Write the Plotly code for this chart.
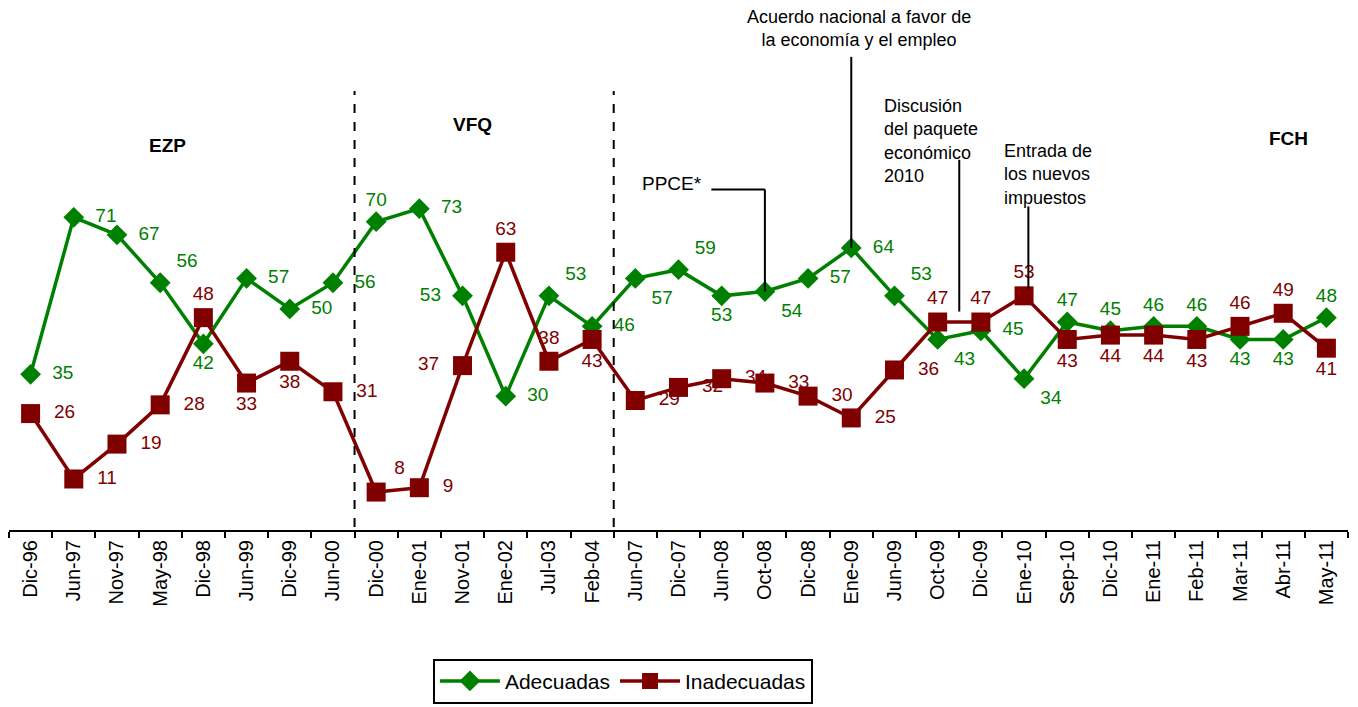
import plotly.graph_objects as go

categories = ["Dic-96", "Jun-97", "Nov-97", "May-98", "Dic-98", "Jun-99", "Dic-99", "Jun-00",
              "Dic-00", "Ene-01", "Nov-01", "Ene-02", "Jul-03", "Feb-04", "Jun-07", "Dic-07",
              "Jun-08", "Oct-08", "Dic-08", "Ene-09", "Jun-09", "Oct-09", "Dic-09", "Ene-10",
              "Sep-10", "Dic-10", "Ene-11", "Feb-11", "Mar-11", "Abr-11", "May-11"]
adecuadas = [35, 71, 67, 56, 42, 57, 50, 56, 70, 73, 53, 30, 53, 46, 57, 59, 53, 54, 57, 64,
             53, 43, 45, 34, 47, 45, 46, 46, 43, 43, 48]
inadecuadas = [26, 11, 19, 28, 48, 33, 38, 31, 8, 9, 37, 63, 38, 43, 29, 32, 34, 33, 30, 25,
               36, 47, 47, 53, 43, 44, 44, 43, 46, 49, 41]

periods = ["EZP", "VFQ", "FCH"]

GREEN = "#008000"
RED = "#800000"
FONT = "Liberation Sans, Arial, sans-serif"

MR, ML, TC, BC, TR, BR = "middle right", "middle left", "top center", "bottom center", "top right", "bottom right"
pos_ade = [MR, MR, MR, TR, BC, MR, MR, MR, TC, MR, ML, MR, TR, MR, BR, TR, BC, BR, MR, MR,
           TR, BR, MR, BR, TC, TC, TC, TC, BC, BC, TC]
pos_inad = [MR, MR, MR, MR, TC, BC, BC, MR, TR, MR, ML, TC, TC, BC, MR, MR, MR, MR, MR, MR,
            MR, TC, TC, TC, BC, BC, BC, BC, TC, TC, BC]


def labels(values, positions):
    out = []
    for v, p in zip(values, positions):
        s = str(v)
        if p == MR:
            s = "  " + s
        elif p == ML:
            s = s + "  "
        elif p in (TR, BR):
            s = " " + s
        out.append(s)
    return out


fig = go.Figure()
fig.add_trace(go.Scatter(
    x=categories, y=adecuadas, name="Adecuadas", mode="lines+markers+text",
    line=dict(color=GREEN, width=3.5),
    marker=dict(symbol="diamond", size=16, color=GREEN),
    text=labels(adecuadas, pos_ade), textposition=pos_ade,
    textfont=dict(color=GREEN, size=19, family=FONT), cliponaxis=False,
))
fig.add_trace(go.Scatter(
    x=categories, y=inadecuadas, name="Inadecuadas", mode="lines+markers+text",
    line=dict(color=RED, width=3.5),
    marker=dict(symbol="square", size=19, color=RED),
    text=labels(inadecuadas, pos_inad), textposition=pos_inad,
    textfont=dict(color=RED, size=19, family=FONT), cliponaxis=False,
))

shapes = []
# period separators
for xb in (7.5, 13.5):
    shapes.append(dict(type="line", xref="x", yref="y", x0=xb, x1=xb, y0=0, y1=100,
                       line=dict(color="black", width=2, dash="dash")))

i_oct08 = categories.index("Oct-08")
i_ene09 = categories.index("Ene-09")
line_style = dict(color="black", width=2)
# PPCE leader
shapes.append(dict(type="line", x0=15.76, x1=i_oct08, y0=77.4, y1=77.4, line=line_style))
shapes.append(dict(type="line", x0=i_oct08, x1=i_oct08, y0=77.4, y1=adecuadas[i_oct08], line=line_style))
# Acuerdo leader
shapes.append(dict(type="line", x0=i_ene09, x1=i_ene09, y0=107.8, y1=adecuadas[i_ene09], line=line_style))
# Discusion leader
shapes.append(dict(type="line", x0=21.5, x1=21.5, y0=84.2, y1=49.4, line=line_style))
# Entrada leader
shapes.append(dict(type="line", x0=23.1, x1=23.1, y0=73.5, y1=54.7, line=line_style))

annotations = [
    dict(x=3.17, y=87.4, text="<b>EZP</b>", showarrow=False, font=dict(size=19, family=FONT, color="black")),
    dict(x=10.23, y=92.2, text="<b>VFQ</b>", showarrow=False, font=dict(size=19, family=FONT, color="black")),
    dict(x=29.12, y=89.0, text="<b>FCH</b>", showarrow=False, font=dict(size=19, family=FONT, color="black")),
    dict(x=14.86, y=78.7, text="PPCE*", showarrow=False, font=dict(size=19, family=FONT, color="black")),
    dict(x=19.19, y=114.3, text="Acuerdo nacional a favor de<br>la economía y el empleo", showarrow=False,
         font=dict(size=18, family=FONT, color="black")),
    dict(x=19.70, y=88.6, xanchor="left", align="left", text="Discusión<br>del paquete<br>económico<br>2010",
         showarrow=False, font=dict(size=18, family=FONT, color="black")),
    dict(x=22.5, y=80.8, xanchor="left", align="left", text="Entrada de<br>los nuevos<br>impuestos",
         showarrow=False, font=dict(size=18, family=FONT, color="black")),
]
for a in annotations:
    a["xref"] = "x"
    a["yref"] = "y"

fig.update_layout(
    width=1358, height=707,
    margin=dict(l=9, r=10, t=5, b=176),
    paper_bgcolor="white", plot_bgcolor="white",
    font=dict(family=FONT, color="black"),
    shapes=shapes, annotations=annotations,
    legend=dict(orientation="h", x=0.4585, xanchor="center", y=-0.243, yanchor="top",
                bordercolor="black", borderwidth=2, itemwidth=60,
                font=dict(size=21, family=FONT, color="black")),
    showlegend=True,
)
fig.update_xaxes(
    type="category", categoryorder="array", categoryarray=categories,
    range=[-0.5, len(categories) - 0.5], tickson="boundaries",
    tickangle=-90, tickfont=dict(size=20, family=FONT, color="black"),
    showline=True, linecolor="black", linewidth=2,
    ticks="outside", ticklen=6, tickwidth=2, tickcolor="black",
    showgrid=False, zeroline=False,
)
fig.update_yaxes(range=[-0.7, 119.7], visible=False, showgrid=False, zeroline=False)

fig.write_html("out.html", config={"displayModeBar": False},
               post_script="document.body.style.margin='0';document.body.style.overflow='hidden';")
